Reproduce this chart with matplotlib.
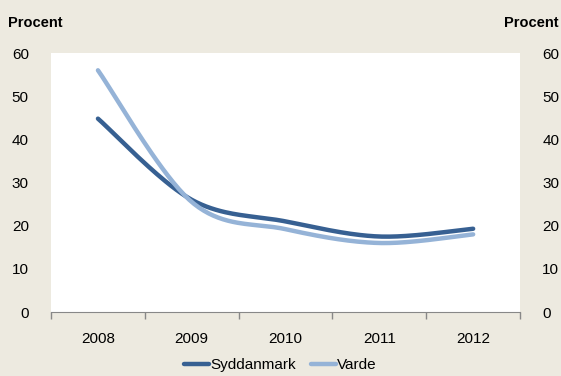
import numpy as np
import matplotlib.pyplot as plt

years = ['2008', '2009', '2010', '2011', '2012']
syddanmark = [44.8, 26.0, 21.0, 17.5, 19.3]
varde = [56.0, 25.5, 19.2, 16.0, 18.0]


def smooth(xs, ys, n=40):
    # Excel-style smoothed line: Bezier through points, Catmull-Rom tangents
    xs = np.asarray(xs, float)
    ys = np.asarray(ys, float)
    px, py = [], []
    for i in range(len(xs) - 1):
        x0, y0 = (xs[i - 1], ys[i - 1]) if i > 0 else (xs[i], ys[i])
        x3, y3 = (xs[i + 2], ys[i + 2]) if i + 2 < len(xs) else (xs[i + 1], ys[i + 1])
        x1, y1, x2, y2 = xs[i], ys[i], xs[i + 1], ys[i + 1]
        c1 = (x1 + (x2 - x0) / 6, y1 + (y2 - y0) / 6)
        c2 = (x2 - (x3 - x1) / 6, y2 - (y3 - y1) / 6)
        t = np.linspace(0, 1, n)
        bx = (1 - t)**3 * x1 + 3 * (1 - t)**2 * t * c1[0] + 3 * (1 - t) * t**2 * c2[0] + t**3 * x2
        by = (1 - t)**3 * y1 + 3 * (1 - t)**2 * t * c1[1] + 3 * (1 - t) * t**2 * c2[1] + t**3 * y2
        px.extend(bx)
        py.extend(by)
    return px, py


plt.rcParams['font.family'] = ['Liberation Sans', 'DejaVu Sans']
bg = '#EDEAE0'

fig = plt.figure(figsize=(5.61, 3.76), dpi=100, facecolor=bg)
ax = fig.add_axes([0.091, 0.170, 0.836, 0.689])
ax.set_facecolor('white')

x = np.arange(len(years))
sx, sy = smooth(x, syddanmark)
vx, vy = smooth(x, varde)
ax.plot(sx, sy, color='#376092', lw=3.2, solid_capstyle='round', label='Syddanmark')
ax.plot(vx, vy, color='#95B3D7', lw=3.2, solid_capstyle='round', label='Varde')

ax.set_xlim(-0.5, 4.5)
ax.set_ylim(0, 60)
ax.set_yticks(range(0, 61, 10))
ax.set_xticks(np.arange(-0.5, 5, 1))
ax.set_xticklabels([])
ax.set_xticks(x, minor=True)
ax.set_xticklabels(years, minor=True)
ax.tick_params(axis='x', which='major', length=5, color='#888888', width=1)
ax.tick_params(axis='x', which='minor', length=0, pad=14, labelsize=11)
ax.tick_params(axis='y', length=0, pad=16, labelsize=11)

for s in ['top', 'right', 'left']:
    ax.spines[s].set_visible(False)
ax.spines['bottom'].set_color('#888888')

ax2 = ax.twinx()
ax2.set_ylim(0, 60)
ax2.set_yticks(range(0, 61, 10))
ax2.tick_params(axis='y', length=0, pad=16, labelsize=11)
for s in ax2.spines.values():
    s.set_visible(False)

fig.text(0.014, 0.94, 'Procent', fontsize=10.5, fontweight='bold', ha='left', va='center')
fig.text(0.995, 0.94, 'Procent', fontsize=10.5, fontweight='bold', ha='right', va='center')

ax.legend(loc='center', bbox_to_anchor=(0.5, 0.028), bbox_transform=fig.transFigure,
          ncol=2, frameon=False, fontsize=11, handlelength=1.6, handletextpad=0.1,
          columnspacing=1.0, borderpad=0.1)

fig.savefig('out.png', dpi=100, facecolor=bg)
